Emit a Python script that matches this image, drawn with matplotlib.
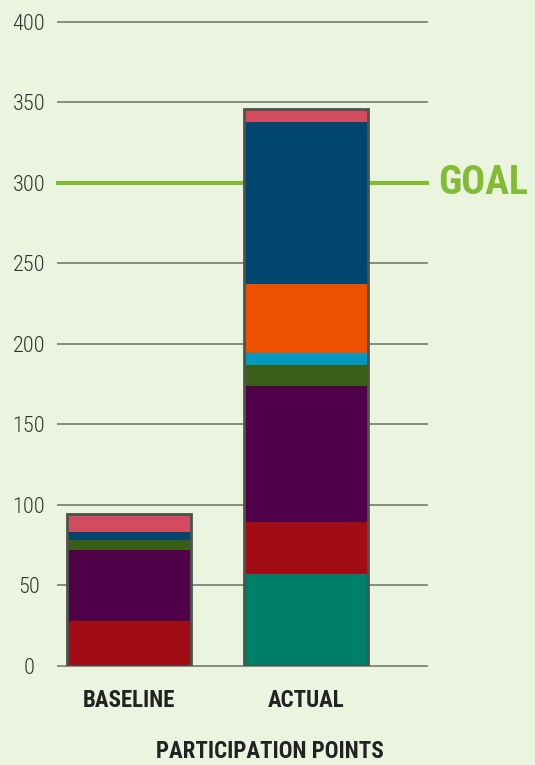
import matplotlib
matplotlib.use("Agg")
import matplotlib.pyplot as plt
from matplotlib import font_manager as fm

# ---- data ----
categories = ["BASELINE", "ACTUAL"]
segment_names = ["Teal", "Red", "Purple", "Green", "Cyan", "Orange", "Blue", "Pink"]
baseline_values = [0, 28, 44, 6, 0, 0, 5, 11]
actual_values = [57, 32, 85, 13, 7, 43, 101, 8]
segment_colors = ["#007f68", "#a20c14", "#500048", "#3a5e15", "#0299c0",
                  "#ec5000", "#00466e", "#d34b5f"]
goal_value = 300
y_ticks = [0, 50, 100, 150, 200, 250, 300, 350, 400]
x_title = "PARTICIPATION POINTS"
goal_label = "GOAL"

# ---- fonts ----
names = {f.name for f in fm.fontManager.ttflist}
cond = None
for cand in ["Roboto Condensed", "Liberation Sans Narrow", "Open Sans Condensed",
             "Noto Sans Condensed"]:
    if cand in names:
        cond = cand
        break
if cond is None:
    fam = ["DejaVu Sans"]
    stretch = "condensed"
else:
    fam = [cond, "DejaVu Sans"]
    stretch = "normal"

bg = "#ebf4df"
fig = plt.figure(figsize=(5.35, 7.65), dpi=100, facecolor=bg)
ax = fig.add_axes([58 / 535, (765 - 665.7) / 765, (427 - 58) / 535, (665.7 - 21.7) / 765])
ax.set_facecolor(bg)

x = [0, 1]
series = list(zip(baseline_values, actual_values))
bottoms = [0, 0]
for i, (vals, col) in enumerate(zip(series, segment_colors)):
    ax.bar(x, vals, width=0.70, bottom=bottoms, color=col, linewidth=0, zorder=3)
    bottoms = [b + v for b, v in zip(bottoms, vals)]
# outline
totals = [sum(baseline_values), sum(actual_values)]
ax.bar(x, totals, width=0.70, fill=False, edgecolor="#4d524b", linewidth=2.0, zorder=4)

ax.set_xlim(-0.401, 1.684)
ax.set_ylim(0, 400)
for t in y_ticks:
    ax.axhline(t, color="#7d8278", linewidth=1.3, zorder=1, clip_on=False)
ax.axhline(goal_value, color="#82bc34", linewidth=3.0, zorder=2, clip_on=False)

for s in ax.spines.values():
    s.set_visible(False)
ax.set_yticks(y_ticks)
ax.set_yticklabels([str(t) for t in y_ticks], fontfamily=fam, fontstretch=stretch,
                   fontsize=16, fontweight="light", color="#333333")
for lab in ax.get_yticklabels():
    lab.set_horizontalalignment("center")
ax.tick_params(axis="y", length=0, pad=21)
ax.set_xticks(x)
ax.set_xticklabels(categories, fontfamily=fam, fontstretch=stretch, fontsize=16.5,
                   fontweight="bold", color="#222222")
ax.tick_params(axis="x", length=0, pad=17)

fig.text(270 / 535, 1 - 751 / 765, x_title, ha="center", va="center",
         fontfamily=fam, fontstretch=stretch, fontsize=16.5, fontweight="bold", color="#222222")
ax.text(1.745, goal_value, goal_label, ha="left", va="center", fontfamily=fam,
        fontstretch=stretch, fontsize=28.5, fontweight="bold", color="#82bc34",
        clip_on=False)

fig.savefig("out.png", dpi=100, facecolor=bg)
